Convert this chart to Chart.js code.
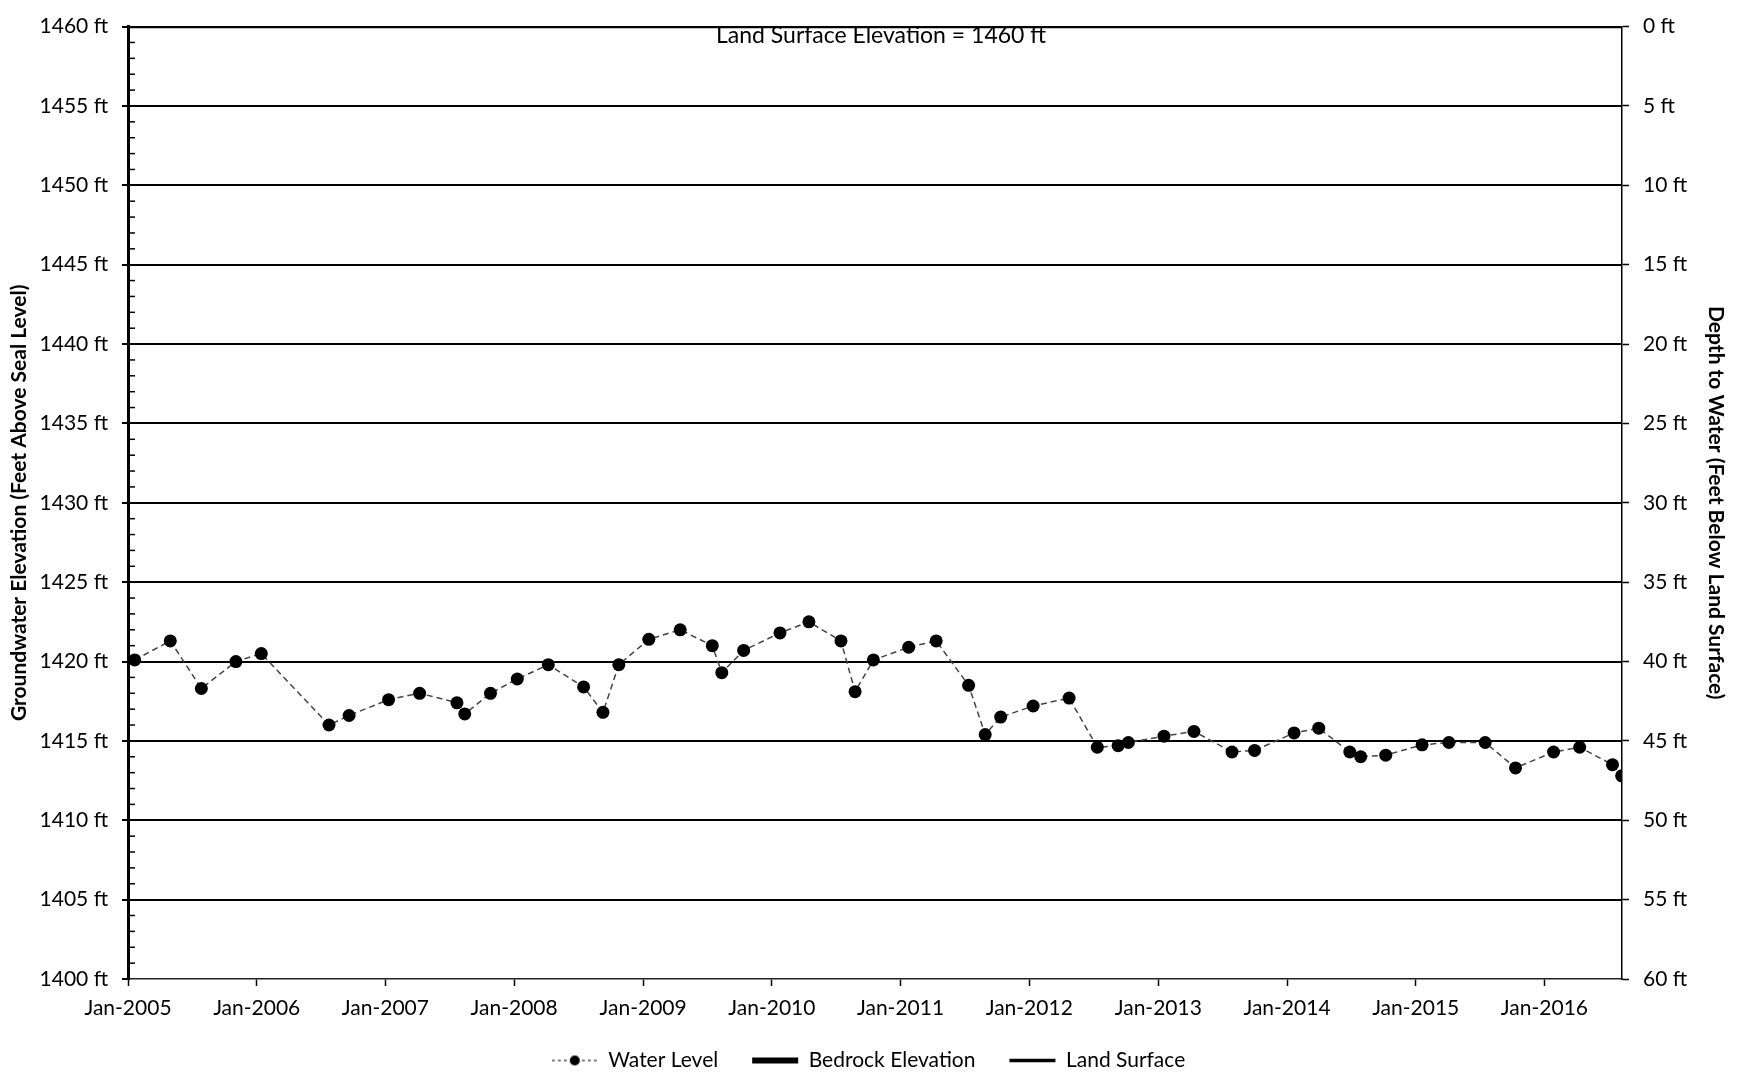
<!DOCTYPE html>
<html>
<head>
<meta charset="utf-8">
<script src="https://cdn.jsdelivr.net/npm/chart.js@4"></script>
<style>
  html, body { margin: 0; padding: 0; background: #fff; }
  #wrap { width: 1737px; height: 1073px; position: relative; }
</style>
</head>
<body>
<div id="wrap"><canvas id="wellChart"></canvas></div>
<script>
// sampling dates and measured groundwater elevations (ft above sea level)
const sampleDates = [
  '2005-01-20', '2005-05-01', '2005-07-28', '2005-11-03', '2006-01-14',
  '2006-07-25', '2006-09-20', '2007-01-10', '2007-04-08', '2007-07-23',
  '2007-08-14', '2007-10-26', '2008-01-10', '2008-04-07', '2008-07-16',
  '2008-09-09', '2008-10-24', '2009-01-17', '2009-04-16', '2009-07-16',
  '2009-08-12', '2009-10-13', '2010-01-24', '2010-04-16', '2010-07-16',
  '2010-08-25', '2010-10-16', '2011-01-24', '2011-04-12', '2011-07-13',
  '2011-08-29', '2011-10-12', '2012-01-12', '2012-04-23', '2012-07-12',
  '2012-09-09', '2012-10-08', '2013-01-17', '2013-04-12', '2013-07-29',
  '2013-10-01', '2014-01-21', '2014-04-01', '2014-06-28', '2014-07-29',
  '2014-10-08', '2015-01-19', '2015-04-05', '2015-07-17', '2015-10-11',
  '2016-01-27', '2016-04-10', '2016-07-12', '2016-08-07'
];
const waterLevel = [
  1420.1, 1421.3, 1418.3, 1420.0, 1420.5,
  1416.0, 1416.6, 1417.6, 1418.0, 1417.4,
  1416.7, 1418.0, 1418.9, 1419.8, 1418.4,
  1416.8, 1419.8, 1421.4, 1422.0, 1421.0,
  1419.3, 1420.7, 1421.8, 1422.5, 1421.3,
  1418.1, 1420.1, 1420.9, 1421.3, 1418.5,
  1415.4, 1416.5, 1417.2, 1417.7, 1414.6,
  1414.7, 1414.9, 1415.3, 1415.6, 1414.3,
  1414.4, 1415.5, 1415.8, 1414.3, 1414.0,
  1414.1, 1414.75, 1414.9, 1414.9, 1413.3,
  1414.3, 1414.6, 1413.5, 1412.8
];
const landSurface = 1460;
const axisStart = '2005-01-01';
const axisEnd = '2016-08-08';
const xTickLabels = ['Jan-2005', 'Jan-2006', 'Jan-2007', 'Jan-2008', 'Jan-2009', 'Jan-2010',
  'Jan-2011', 'Jan-2012', 'Jan-2013', 'Jan-2014', 'Jan-2015', 'Jan-2016'];
const elevMin = 1400, elevMax = 1460;
const depthMin = 0, depthMax = 60;
const noteText = 'Land Surface Elevation = 1460 ft';

const FONT = "Lato, 'Open Sans', sans-serif";
const months = ['Jan','Feb','Mar','Apr','May','Jun','Jul','Aug','Sep','Oct','Nov','Dec'];
const toMs = s => Date.parse(s + 'T00:00:00Z');
const tickValues = xTickLabels.map(l => {
  const [m, y] = l.split('-');
  return Date.UTC(+y, months.indexOf(m), 1);
});

// legend icon for water level: dashed line with a dot
const wlIcon = document.createElement('canvas');
wlIcon.width = 46; wlIcon.height = 14;
(function () {
  const c = wlIcon.getContext('2d');
  c.strokeStyle = '#555'; c.lineWidth = 1.5; c.setLineDash([3, 3]);
  c.beginPath(); c.moveTo(0, 7); c.lineTo(46, 7); c.stroke();
  c.fillStyle = '#000';
  c.beginPath(); c.arc(23, 7, 5, 0, Math.PI * 2); c.fill();
})();

const minorTicks = {
  id: 'minorTicks',
  afterDraw(chart) {
    const s = chart.scales.y;
    const ctx = chart.ctx;
    ctx.save();
    ctx.strokeStyle = '#000';
    ctx.lineWidth = 1.5;
    for (let v = elevMin + 1; v < elevMax; v++) {
      if (v % 5 === 0) continue;
      const py = s.getPixelForValue(v);
      ctx.beginPath();
      ctx.moveTo(s.right, py);
      ctx.lineTo(s.right + 7, py);
      ctx.stroke();
    }
    ctx.restore();
  }
};

const noteLabel = {
  id: 'noteLabel',
  afterDraw(chart) {
    const a = chart.chartArea;
    const ctx = chart.ctx;
    ctx.save();
    ctx.font = '23px ' + FONT;
    ctx.fillStyle = '#000';
    ctx.textAlign = 'center';
    ctx.textBaseline = 'middle';
    ctx.fillText(noteText, (a.left + a.right) / 2 + 6, a.top + 9);
    ctx.restore();
  }
};

new Chart(document.getElementById('wellChart'), {
  type: 'line',
  data: {
    datasets: [
      {
        label: 'Water Level',
        data: sampleDates.map((d, i) => ({ x: toMs(d), y: waterLevel[i] })),
        borderColor: '#444',
        backgroundColor: '#000',
        borderWidth: 1.5,
        borderDash: [6, 4],
        pointRadius: 6.5,
        pointBackgroundColor: '#000',
        pointBorderColor: '#000',
        pointBorderWidth: 0,
        yAxisID: 'y'
      },
      {
        label: 'Bedrock Elevation',
        data: [],
        borderColor: '#000',
        backgroundColor: '#000',
        borderWidth: 6,
        pointStyle: 'line',
        yAxisID: 'y'
      },
      {
        label: 'Land Surface',
        data: [{ x: toMs(axisStart), y: landSurface }, { x: toMs(axisEnd), y: landSurface }],
        borderColor: '#000',
        backgroundColor: '#000',
        borderWidth: 3.5,
        pointRadius: 0,
        pointStyle: 'line',
        yAxisID: 'y'
      }
    ]
  },
  plugins: [minorTicks, noteLabel],
  options: {
    responsive: true,
    maintainAspectRatio: false,
    animation: false,
    events: [],
    layout: { padding: { top: 16, bottom: -8 } },
    plugins: {
      legend: {
        position: 'bottom',
        labels: {
          usePointStyle: true,
          pointStyleWidth: 46,
          boxHeight: 14,
          padding: 34,
          color: '#000',
          font: { family: FONT, size: 21 },
          generateLabels(chart) {
            const items = Chart.defaults.plugins.legend.labels.generateLabels(chart);
            items[0].pointStyle = wlIcon;
            items[0].lineWidth = 0;
            items[1].lineWidth = 6;
            items[2].lineWidth = 3.5;
            return items;
          }
        }
      },
      tooltip: { enabled: false }
    },
    scales: {
      x: {
        type: 'linear',
        min: toMs(axisStart),
        max: toMs(axisEnd),
        afterBuildTicks(scale) {
          scale.ticks = tickValues.map(v => ({ value: v }));
        },
        afterFit(scale) { scale.height = 37; },
        grid: { drawOnChartArea: false, tickLength: 7, tickColor: '#000', tickWidth: 1.5 },
        border: { color: '#222', width: 1.5, dash: [2, 2] },
        ticks: {
          autoSkip: false,
          maxRotation: 0,
          padding: 10,
          color: '#000',
          font: { family: FONT, size: 21 },
          callback: v => xTickLabels[tickValues.indexOf(v)]
        }
      },
      y: {
        position: 'left',
        min: elevMin,
        max: elevMax,
        afterFit(scale) { scale.width = 128; },
        ticks: {
          stepSize: 5,
          padding: 14,
          color: '#000',
          font: { family: FONT, size: 21 },
          callback: v => v + ' ft'
        },
        grid: {
          color: ctx => ctx.tick && ctx.tick.value === elevMin ? 'transparent' : '#000',
          lineWidth: 2,
          tickLength: 6,
          tickColor: '#000'
        },
        border: { color: '#000', width: 3 },
        title: {
          display: true,
          text: 'Groundwater Elevation (Feet Above Seal Level)',
          color: '#000',
          font: { family: FONT, size: 21, weight: 'bold' },
          padding: { top: 7, bottom: 0 }
        }
      },
      y2: {
        position: 'right',
        reverse: true,
        min: depthMin,
        max: depthMax,
        afterFit(scale) { scale.width = 115; },
        ticks: {
          stepSize: 5,
          padding: 14,
          color: '#000',
          font: { family: FONT, size: 21 },
          callback: v => v + ' ft'
        },
        grid: { drawOnChartArea: false, tickLength: 7, tickColor: '#000', tickWidth: 1.5 },
        border: { color: '#000', width: 1.5 },
        title: {
          display: true,
          text: 'Depth to Water (Feet Below Land Surface)',
          color: '#000',
          font: { family: FONT, size: 21, weight: 'bold' },
          padding: { top: 9, bottom: 0 }
        }
      }
    }
  }
});
</script>
</body>
</html>
